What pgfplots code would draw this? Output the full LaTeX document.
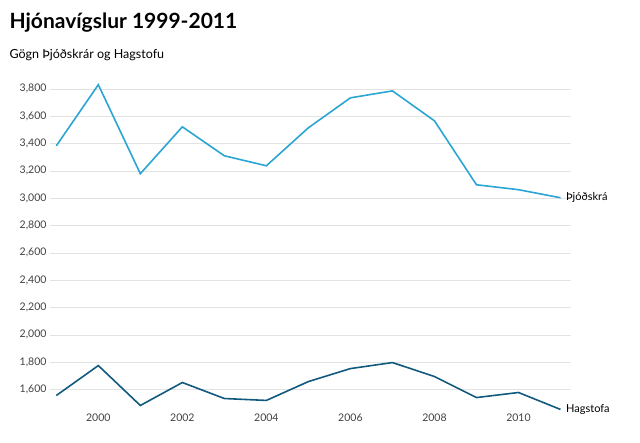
\documentclass[border=0pt]{standalone}
\usepackage{pgfplots}
\pgfplotsset{compat=1.18}
\usepackage{fontspec}
\setmainfont{Lato}
\definecolor{cA}{HTML}{2BA5D3}
\definecolor{cB}{HTML}{115A7E}
\begin{document}
\begin{tikzpicture}
\useasboundingbox (0pt,0pt) rectangle (640pt,443pt);
\node[anchor=west,font=\bfseries\fontsize{21}{24}\selectfont] at (6pt,420pt) {Hjónavígslur 1999-2011};
\node[anchor=west,font=\fontsize{12.5}{15}\selectfont] at (6pt,388pt) {Gögn Þjóðskrár og Hagstofu};
\begin{axis}[at={(50pt,33pt)},anchor=south west,scale only axis,width=521pt,height=328pt,
 xmin=1998.85,xmax=2011.25,ymin=1450,ymax=3850,
 axis line style={draw=none}, clip=false,
 xtick={2000,2002,...,2010}, ytick={1600,1800,...,3800},
 ymajorgrids, grid style={gray!22},
 major tick length=0pt,
 xticklabel style={font=\fontsize{10.5}{12}\selectfont,text=black!75},
 yticklabel style={font=\fontsize{10.5}{12}\selectfont,text=black!75},
 /pgf/number format/assume math mode=true,
 /pgf/number format/1000 sep={,},
 x tick label style={/pgf/number format/1000 sep={}},
 every axis plot/.style={line width=1.6pt,mark=none}]
\addplot[cA] coordinates {(1999,3383)(2000,3830)(2001,3179)(2002,3522)(2003,3310)(2004,3237)(2005,3515)(2006,3734)(2007,3785)(2008,3566)(2009,3098)(2010,3062)(2011,3003)};
\addplot[cB] coordinates {(1999,1556)(2000,1775)(2001,1483)(2002,1651)(2003,1534)(2004,1520)(2005,1658)(2006,1753)(2007,1797)(2008,1695)(2009,1541)(2010,1578)(2011,1454)};
\node[anchor=west,font=\fontsize{11}{13}\selectfont] at (axis cs:2011.05,3003) {Þjóðskrá};
\node[anchor=west,font=\fontsize{11}{13}\selectfont] at (axis cs:2011.05,1454) {Hagstofa};
\end{axis}
\end{tikzpicture}
\end{document}
